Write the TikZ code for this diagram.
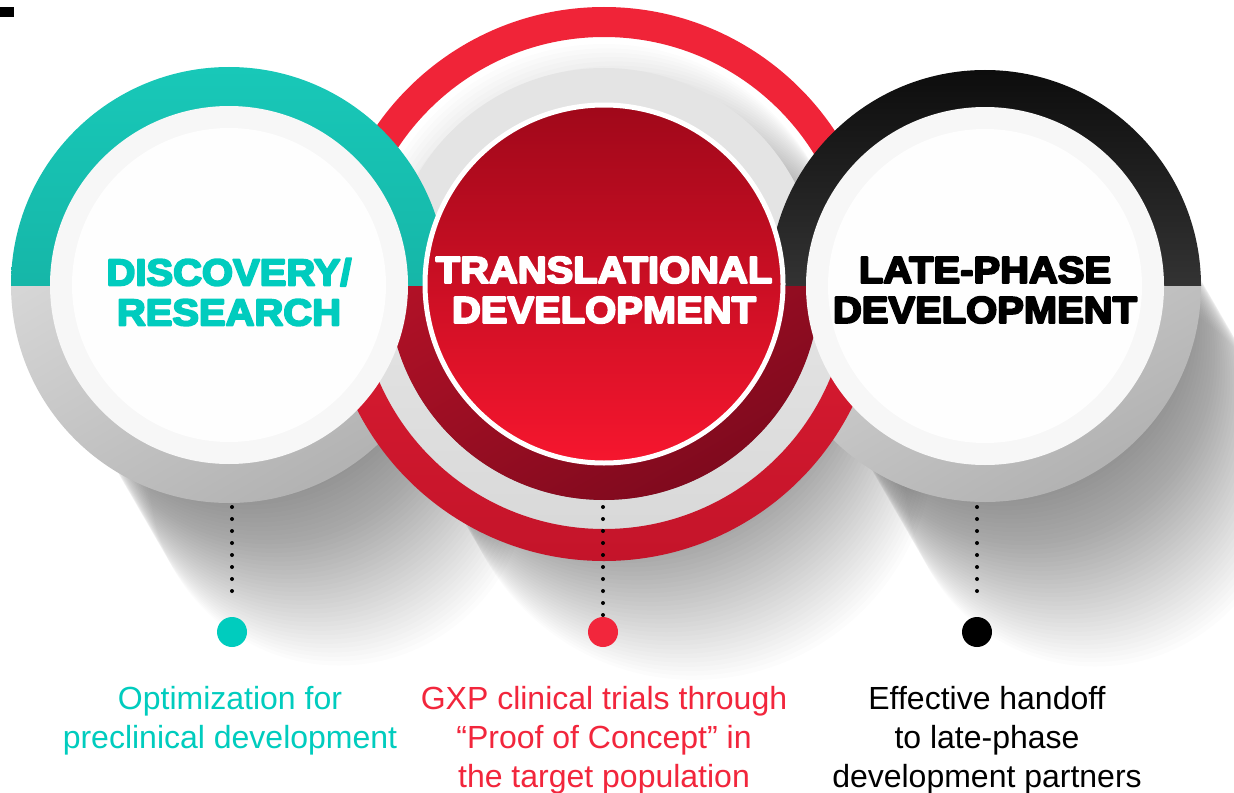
\documentclass[tikz,border=0pt]{standalone}
\usepackage{fontspec}
\setmainfont{Liberation Sans}
\newfontfamily\heavyfont{Liberation Sans}[UprightFont=* Bold, FakeStretch=1.07]
\newcommand\heavytext[1]{\special{pdf:literal 2 Tr 1.5 w 1 j}#1\special{pdf:literal 0 Tr}}

\definecolor{tealtxt}{RGB}{0,204,190}
\definecolor{tealring}{RGB}{24,200,184}
\definecolor{tealdark}{RGB}{20,165,152}
\definecolor{redtxt}{RGB}{242,38,60}
\definecolor{redtop}{RGB}{160,8,26}
\definecolor{redbot}{RGB}{246,22,46}
\definecolor{redarc}{RGB}{240,36,56}
\definecolor{redarcdark}{RGB}{196,20,42}
\definecolor{redshade}{RGB}{128,10,30}
\definecolor{bandgray}{RGB}{228,228,228}

\begin{document}
\begin{tikzpicture}[x=0.75pt,y=0.75pt,yscale=-1,xscale=1,
  title/.style={font=\heavyfont\fontsize{28}{30}\selectfont, align=center, inner sep=0pt},
  note/.style={font=\fontsize{24}{29.25}\selectfont, align=center, inner sep=0pt, anchor=north},
  dotline/.style={line width=3pt, line cap=round, dash pattern=on 0pt off 9pt},
  bigdot/.style={circle, minimum size=22.5pt, inner sep=0pt},
  shadowstep/.style={fill=black, opacity=0.011},
  lowring/.style={top color=gray!22, bottom color=gray!60, shading angle=30},
  disk/.style={fill=gray!6}]
\useasboundingbox (0,0) rectangle (1234,792);
\fill[white] (0,0) rectangle (1234,792);
\fill (0,7) rectangle (14,17);

\coordinate (disc) at (229,285);
\coordinate (trans) at (604,284);
\coordinate (late) at (985,286);

% long shadows
\foreach \t in {0,5,...,220} {
  \fill[shadowstep] ([shift={(0.5*\t,0.866*\t)}]disc) circle (190);
  \fill[shadowstep] ([shift={(0.5*\t,0.866*\t)}]late) circle (190);
}
\foreach \t in {0,5,...,180}
  \fill[shadowstep] ([shift={(0.5*\t,0.866*\t)}]trans) circle (240);

% lower halves of the side rings
\begin{scope}
\clip (0,285) rectangle (1234,792);
\shade[lowring, even odd rule] (disc) circle (218) (disc) circle (170);
\shade[lowring, even odd rule] (late) circle (216) (late) circle (170);
\end{scope}

% middle rings
\begin{scope}
\clip (0,0) rectangle (1234,284);
\fill[redarc, even odd rule] (trans) circle (277) (trans) circle (247);
\fill[bandgray, even odd rule] (trans) circle (216) (trans) circle (175);
\end{scope}
\begin{scope}
\clip (0,284) rectangle (1234,792);
\shade[top color=gray!12, bottom color=gray!30, even odd rule] (trans) circle (247) (trans) circle (216);
\shade[top color=redarc, bottom color=redarcdark, even odd rule] (trans) circle (277) (trans) circle (245);
\shade[top color=redarcdark, bottom color=redshade, shading angle=30, even odd rule] (trans) circle (216) (trans) circle (175);
\end{scope}

% upper halves of the side rings
\begin{scope}
\clip (0,0) rectangle (1234,285);
\shade[top color=tealring, bottom color=tealdark, even odd rule] (disc) circle (218) (disc) circle (170);
\shade[top color=black!95, bottom color=black!65, even odd rule] (late) circle (216) (late) circle (170);
\end{scope}

% white disks
\fill[disk] (disc) circle (179);
\fill[gray!1] (disc) circle (157);
\fill[disk] (late) circle (179);
\fill[gray!1] (late) circle (157);

% red disk
\draw[white, line width=3.75pt, top color=redtop, bottom color=redbot] (trans) circle (179);

\node[title, text=tealtxt] (discovery) at (229,292) {\heavytext{DISCOVERY/}\\\heavytext{RESEARCH}};
\node[title, text=white] (translational) at (604,290) {\heavytext{TRANSLATIONAL}\\\heavytext{DEVELOPMENT}};
\node[title, text=black] (latephase) at (985,290) {\heavytext{LATE-PHASE}\\\heavytext{DEVELOPMENT}};

% dotted connectors
\coordinate (dot1 top) at (232,507);
\coordinate (dot1 end) at (232,593);
\coordinate (dot2 top) at (603,507);
\coordinate (dot2 end) at (603,617);
\coordinate (dot3 top) at (977,507);
\coordinate (dot3 end) at (977,593);
\draw[dotline] (dot1 top) -- (dot1 end);
\draw[dotline] (dot2 top) -- (dot2 end);
\draw[dotline] (dot3 top) -- (dot3 end);

\node[bigdot, fill=tealtxt] (dot1) at (232,632) {};
\node[bigdot, fill=redtxt] (dot2) at (603,632) {};
\node[bigdot, fill=black] (dot3) at (977,632) {};

\node[note, text=tealtxt] (optimization) at (230,686) {Optimization for\\preclinical development};
\node[note, text=redtxt] (gxp) at (604,686) {GXP clinical trials through\\``Proof of Concept'' in\\the target population};
\node[note, text=black] (handoff) at (987,686) {Effective handoff\\to late-phase\\development partners};
\end{tikzpicture}
\end{document}
